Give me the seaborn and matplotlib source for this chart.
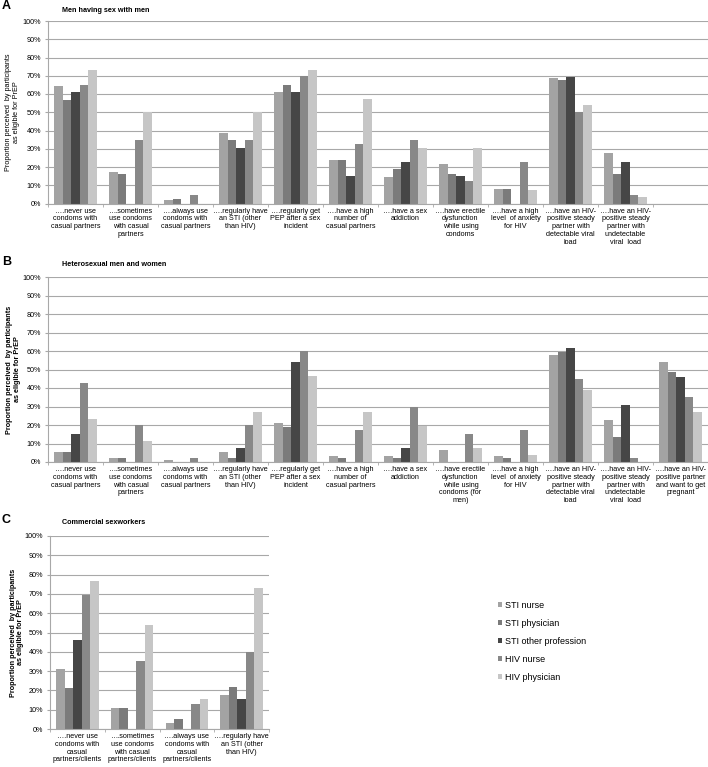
import numpy as np
import pandas as pd
import matplotlib.pyplot as plt
import seaborn as sns
from matplotlib.patches import Patch
#
# Professions (legend) and their grey shades:
professions = ['STI nurse', 'STI physician', 'STI other profession', 'HIV nurse', 'HIV physician']
greys = ['#a3a3a3', '#7b7b7b', '#464646', '#888888', '#c6c6c6']
#
# Panel A - men having sex with men:
cats_a = [
    '….never use\ncondoms with\ncasual partners',
    '….sometimes\nuse condoms\nwith casual\npartners',
    '….always use\ncondoms with\ncasual partners',
    '….regularly have\nan STI (other\nthan HIV)',
    '….regularly get\nPEP after a sex\nincident',
    '….have a high\nnumber of\ncasual partners',
    '….have a sex\naddiction',
    '….have erectile\ndysfunction\nwhile using\ncondoms',
    '….have a high\nlevel  of anxiety\nfor HIV',
    '….have an HIV-\npositive steady\npartner with\ndetectable viral\nload',
    '….have an HIV-\npositive steady\npartner with\nundetectable\nviral  load',
]
sti_nurse_a = [64.4, 17.0, 1.8, 38.6, 61.2, 23.6, 14.6, 21.4, 8.2, 68.6, 27.4]
sti_phys_a = [56.5, 15.9, 2.4, 35.0, 64.7, 24.1, 18.8, 15.9, 7.9, 67.5, 15.9]
sti_other_a = [61.3, 0, 0, 30.6, 61.3, 15.0, 22.9, 15.0, 0, 69.2, 22.9]
hiv_nurse_a = [64.7, 35.0, 4.7, 35.0, 70.0, 32.5, 35.0, 12.2, 22.5, 50.0, 4.7]
hiv_phys_a = [73.0, 50.0, 0, 50.0, 73.0, 57.5, 30.5, 30.5, 7.3, 53.8, 3.3]
#
# Panel B - heterosexual men and women:
cats_b = [
    '….never use\ncondoms with\ncasual partners',
    '….sometimes\nuse condoms\nwith casual\npartners',
    '….always use\ncondoms with\ncasual partners',
    '….regularly have\nan STI (other\nthan HIV)',
    '….regularly get\nPEP after a sex\nincident',
    '….have a high\nnumber of\ncasual partners',
    '….have a sex\naddiction',
    '….have erectile\ndysfunction\nwhile using\ncondoms (for\nmen)',
    '….have a high\nlevel  of anxiety\nfor HIV',
    '….have an HIV-\npositive steady\npartner with\ndetectable viral\nload',
    '….have an HIV-\npositive steady\npartner with\nundetectable\nviral  load',
    '….have an HIV-\npositive partner\nand want to get\npregnant',
]
sti_nurse_b = [5.3, 2.0, 0.9, 5.3, 21.2, 3.0, 3.0, 6.5, 3.0, 58.0, 22.6, 53.8]
sti_phys_b = [5.3, 2.3, 0, 2.3, 18.8, 2.3, 2.3, 0, 2.3, 59.7, 13.3, 48.5]
sti_other_b = [15.4, 0, 0, 7.7, 53.8, 0, 7.7, 0, 0, 61.5, 30.8, 46.2]
hiv_nurse_b = [42.5, 20.0, 2.3, 20.0, 60.0, 17.5, 30.0, 15.0, 17.5, 45.0, 2.3, 35.0]
hiv_phys_b = [23.3, 11.4, 0, 27.0, 46.5, 27.0, 19.2, 7.7, 3.7, 38.7, 0, 27.0]
#
# Panel C - commercial sexworkers:
cats_c = [
    '….never use\ncondoms with\ncasual\npartners/clients',
    '….sometimes\nuse condoms\nwith casual\npartners/clients',
    '….always use\ncondoms with\ncasual\npartners/clients',
    '….regularly have\nan STI (other\nthan HIV)',
]
sti_nurse_c = [31.0, 10.7, 3.2, 17.4]
sti_phys_c = [21.5, 10.7, 5.3, 21.7]
sti_other_c = [46.2, 0, 0, 15.4]
hiv_nurse_c = [69.2, 35.0, 12.8, 40.0]
hiv_phys_c = [76.9, 53.8, 15.4, 73.3]

plt.rcParams['font.family'] = ['Liberation Sans', 'DejaVu Sans']
FS = 5.2
GRID = '#a8a8a8'


def long_form(cats, series):
    rows = []
    for prof, vals in zip(professions, series):
        for c, v in zip(cats, vals):
            rows.append({'cat': c, 'prof': prof, 'value': v})
    return pd.DataFrame(rows)


def draw_panel(ax, cats, series, nslots, ylab_x, bold_ylabel):
    df = long_form(cats, series)
    sns.barplot(
        data=df, x='cat', y='value', hue='prof',
        order=cats, hue_order=professions, palette=greys,
        width=0.78, saturation=1, legend=False, ax=ax,
        edgecolor='none', linewidth=0,
    )
    ax.set_xlim(-0.5, nslots - 0.5)
    ax.set_ylim(0, 100)
    ax.set_yticks(np.arange(0, 101, 10))
    ax.set_yticklabels([f'{v}%' for v in range(0, 101, 10)], fontsize=FS)
    ax.yaxis.grid(True, color=GRID, linewidth=0.8)
    ax.set_axisbelow(True)
    for s in ['top', 'right']:
        ax.spines[s].set_visible(False)
    for s in ['left', 'bottom']:
        ax.spines[s].set_color(GRID)
        ax.spines[s].set_linewidth(0.8)
    ax.tick_params(axis='y', length=2.5, color=GRID, pad=2.5)
    ax.tick_params(axis='x', which='major', length=0, pad=3, labelsize=FS)
    ax.set_xticks(range(len(cats)))
    ax.set_xticklabels(cats, fontsize=FS, linespacing=1.15, va='top')
    ax.set_xticks(np.arange(-0.5, nslots, 1), minor=True)
    ax.tick_params(axis='x', which='minor', length=2.5, color=GRID)
    ax.set_xlabel('')
    ax.set_ylabel(
        'Proportion perceived  by participants\nas eligible for PrEP',
        fontsize=FS, fontweight='bold' if bold_ylabel else 'normal',
        linespacing=1.1,
    )
    ax.yaxis.set_label_coords(ylab_x, 0.5)
    ax.yaxis.label.set_va('center')


W, H = 708, 767
fig = plt.figure(figsize=(W / 100, H / 100), dpi=100)

ax_a = fig.add_axes([48 / W, 1 - 203.5 / H, 660 / W, 182.5 / H])
draw_panel(ax_a, cats_a, [sti_nurse_a, sti_phys_a, sti_other_a, hiv_nurse_a, hiv_phys_a],
           12, -0.054, False)

ax_b = fig.add_axes([48 / W, 1 - 462 / H, 660 / W, 185 / H])
draw_panel(ax_b, cats_b, [sti_nurse_b, sti_phys_b, sti_other_b, hiv_nurse_b, hiv_phys_b],
           12, -0.052, True)

ax_c = fig.add_axes([50 / W, 1 - 729 / H, 219 / W, 193 / H])
draw_panel(ax_c, cats_c, [sti_nurse_c, sti_phys_c, sti_other_c, hiv_nurse_c, hiv_phys_c],
           4, -0.15, True)
#
# Panel letters and titles:
for letter, y_let, title, y_tit in [
    ('A', 6, 'Men having sex with men', 10),
    ('B', 262, 'Heterosexual men and women', 264),
    ('C', 520, 'Commercial sexworkers', 522),
]:
    fig.text(2 / W, 1 - y_let / H, letter, fontsize=9, fontweight='bold', va='center', ha='left')
    fig.text(62 / W, 1 - y_tit / H, title, fontsize=FS, fontweight='bold', va='center', ha='left')
#
# Legend:
handles = [Patch(facecolor=c, edgecolor='none') for c in greys]
fig.legend(
    handles, professions, loc='upper left',
    bbox_to_anchor=(494 / W, 1 - 597 / H), frameon=False,
    fontsize=6.5, handlelength=0.5, handleheight=0.5, handletextpad=0.3,
    labelspacing=1.0, borderaxespad=0,
)

fig.savefig('out.png', dpi=100)
